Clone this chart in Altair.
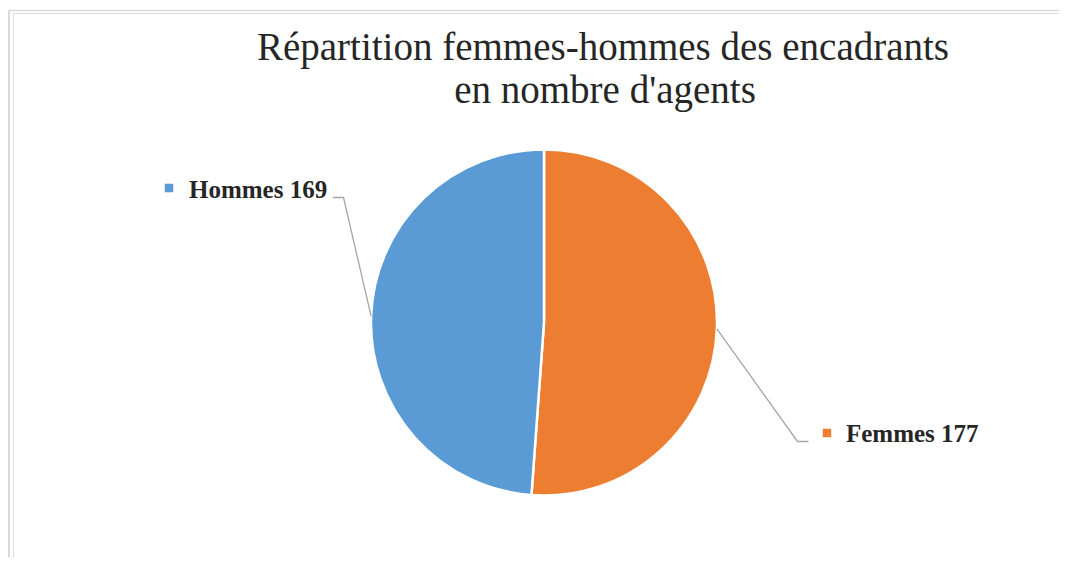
import math
import altair as alt
import pandas as pd

# ---- data ----
categories = ["Femmes", "Hommes"]
values = [177, 169]
colors = ["#ED7D31", "#5B9BD5"]
title_lines = ["Répartition femmes-hommes des encadrants", "en nombre d'agents"]

# ---- layout (page pixel coordinates) ----
CX, CY, R = 544, 322.5, 173
label_square = {"Femmes": (827, 433), "Hommes": (169, 188)}
label_text = {"Femmes": (846, 442), "Hommes": (189, 198)}
leader_elbow = {"Femmes": (797.5, 441.5), "Hommes": (343.5, 197.5)}
leader_end = {"Femmes": (808.5, 441.5), "Hommes": (333.0, 197.5)}
title_pos = [(603, 60), (605, 103)]

X0, Y0 = 13, 13
W, H = 1046, 544

df = pd.DataFrame({"cat": categories, "val": values, "order": list(range(len(values)))})

total = sum(values)
rows_line, rows_sq, rows_txt = [], [], []
cum = 0
for c, v in zip(categories, values):
    mid = (cum + v / 2) / total * 2 * math.pi
    cum += v
    sx = CX + R * math.sin(mid)
    sy = CY - R * math.cos(mid)
    pts = [(sx, sy), leader_elbow[c], leader_end[c]]
    for i, (px, py) in enumerate(pts):
        rows_line.append({"cat": c, "i": i, "x": px, "y": py})
    rows_sq.append({"cat": c, "x": label_square[c][0], "y": label_square[c][1]})
    rows_txt.append({"cat": c, "label": f"{c} {v}", "x": label_text[c][0], "y": label_text[c][1]})

xs = alt.Scale(domain=[X0, X0 + W], nice=False, zero=False)
ys = alt.Scale(domain=[Y0, Y0 + H], nice=False, zero=False, reverse=True)
cs = alt.Scale(domain=categories, range=colors)

pie = alt.Chart(df).mark_arc(outerRadius=R, stroke="white", strokeWidth=2.5).encode(
    theta=alt.Theta("val:Q", stack=True),
    order=alt.Order("order:Q"),
    color=alt.Color("cat:N", scale=cs, legend=None),
    x=alt.value(CX - X0),
    y=alt.value(CY - Y0),
)

lines = alt.Chart(pd.DataFrame(rows_line)).mark_line(color="#A6A6A6", strokeWidth=1.3).encode(
    x=alt.X("x:Q", scale=xs, axis=None),
    y=alt.Y("y:Q", scale=ys, axis=None),
    detail="cat:N",
    order="i:Q",
)

squares = alt.Chart(pd.DataFrame(rows_sq)).mark_square(size=72, opacity=1).encode(
    x=alt.X("x:Q", scale=xs, axis=None),
    y=alt.Y("y:Q", scale=ys, axis=None),
    color=alt.Color("cat:N", scale=cs, legend=None),
)

texts = alt.Chart(pd.DataFrame(rows_txt)).mark_text(
    font="Liberation Serif", fontSize=25, fontWeight="bold", color="#262626",
    align="left", baseline="alphabetic",
).encode(
    x=alt.X("x:Q", scale=xs, axis=None),
    y=alt.Y("y:Q", scale=ys, axis=None),
    text="label:N",
)

tdf = pd.DataFrame({"t": title_lines, "x": [p[0] for p in title_pos], "y": [p[1] for p in title_pos]})
title = alt.Chart(tdf).mark_text(
    font="Liberation Serif", fontSize=39, color="#262626", align="center", baseline="alphabetic",
).encode(
    x=alt.X("x:Q", scale=xs, axis=None),
    y=alt.Y("y:Q", scale=ys, axis=None),
    text="t:N",
)

frame_top = alt.Chart(pd.DataFrame({"a": [0]})).mark_rule(color="#D9D9D9", strokeWidth=1.5).encode(
    x=alt.value(8.5 - X0), x2=alt.value(W), y=alt.value(10.5 - Y0)
)
frame_left = alt.Chart(pd.DataFrame({"a": [0]})).mark_rule(color="#D9D9D9", strokeWidth=2).encode(
    x=alt.value(9 - X0), y=alt.value(10 - Y0), y2=alt.value(H)
)

chart = alt.layer(frame_top, frame_left, pie, lines, squares, texts, title).properties(
    width=W, height=H,
    padding={"left": X0 - 8, "top": Y0 - 8, "right": 0, "bottom": 0},
    autosize=alt.AutoSizeParams(type="none"),
).configure_view(strokeWidth=0).configure(background="white")

chart.save("out.html", embed_options={"renderer": "svg", "actions": False})
